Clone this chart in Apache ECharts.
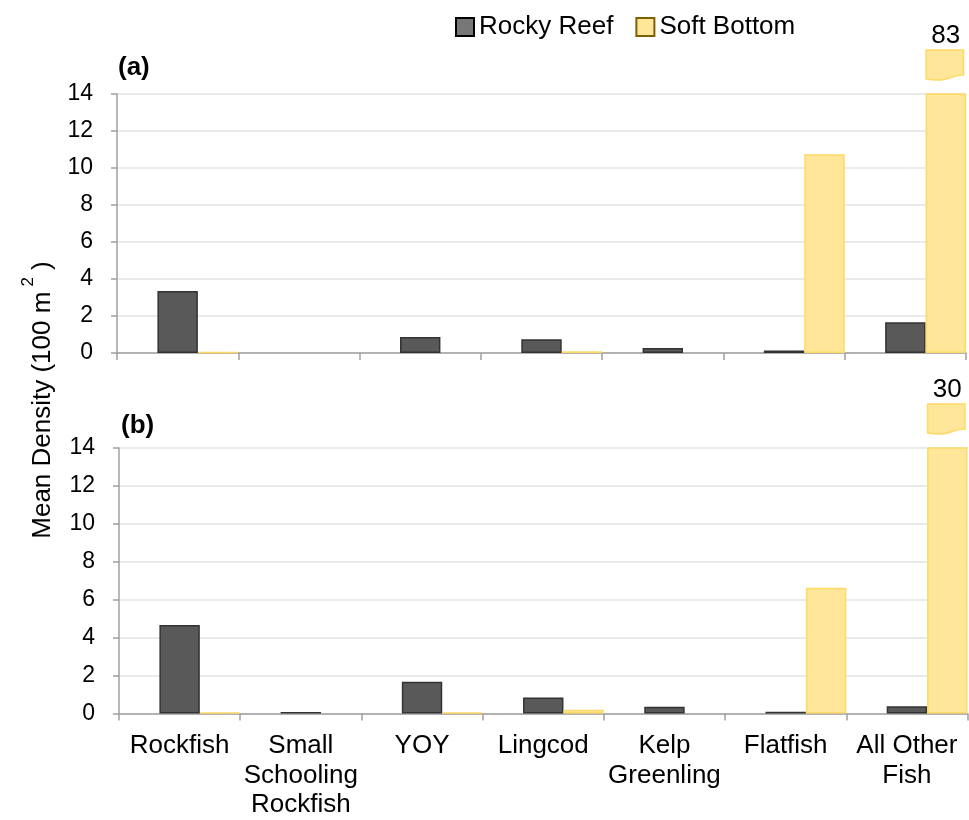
<!DOCTYPE html>
<html>
<head>
<meta charset="utf-8">
<script src="https://cdn.jsdelivr.net/npm/echarts@6/dist/echarts.min.js"></script>
<style>
html,body{margin:0;padding:0;background:#fff;}
#chart{width:969px;height:820px;}
</style>
</head>
<body>
<div id="chart"></div>
<script>
// ---- data ----
const categories = ['Rockfish', 'Small\nSchooling\nRockfish', 'YOY', 'Lingcod', 'Kelp\nGreenling', 'Flatfish', 'All Other\nFish'];
const seriesNames = ['Rocky Reef', 'Soft Bottom'];
const rockyA = [3.35, 0, 0.86, 0.74, 0.27, 0.13, 1.66];
const softA  = [0.05, 0, 0, 0.1, 0, 10.74, 83];
const rockyB = [4.67, 0.08, 1.68, 0.84, 0.35, 0.09, 0.38];
const softB  = [0.06, 0, 0.05, 0.2, 0, 6.63, 30];
const yTicks = [0, 2, 4, 6, 8, 10, 12, 14];
const panelLabels = ['(a)', '(b)'];
const yTitle = 'Mean Density (100 m';

const YMAX = yTicks[yTicks.length - 1];
const FONT = 'Liberation Sans, Arial, sans-serif';
const ROCKY = {color: '#595959', borderColor: '#333333', borderWidth: 1.5};
const SOFT = {color: '#FFE699', borderColor: '#FFD966', borderWidth: 1.5};
const noZero = arr => arr.map(v => (v === 0 ? '-' : v));

function breakRenderer(params, api) {
  const v = api.value(1);
  if (!(v > YMAX)) return null;
  const p = api.coord([api.value(0), YMAX]);
  const bw = api.size([1, 0])[0];
  const w = bw / 3;
  const cx = p[0] + w;
  const L = cx - w / 2 + 0.5, R = cx + w / 2 - 2.5;
  const T = p[1] - 44;
  const d = 'M' + L + ',' + T + ' L' + R + ',' + T + ' L' + R + ',' + (T + 25) +
    ' C' + (R - w * 0.35) + ',' + (T + 25) + ' ' + (L + w * 0.55) + ',' + (T + 33) + ' ' + L + ',' + (T + 29) + ' Z';
  return {
    type: 'group',
    children: [
      {type: 'path', shape: {pathData: d}, style: {fill: SOFT.color, stroke: SOFT.borderColor, lineWidth: 1.5}},
      {type: 'text', style: {text: String(v), x: cx, y: p[1] - 58, align: 'center', verticalAlign: 'middle',
        fontSize: 26, fontFamily: FONT, fill: '#000'}}
    ]
  };
}

function xAxis(gridIndex, showLabels) {
  return {
    type: 'category', gridIndex: gridIndex, data: categories,
    axisLine: {lineStyle: {color: '#a0a0a0', width: 1.5}},
    axisTick: {show: true, length: 7, lineStyle: {color: '#a0a0a0', width: 1.5}},
    axisLabel: {show: showLabels, color: '#000', fontSize: 26, fontFamily: FONT, lineHeight: 29.5, margin: 18, interval: 0},
    splitLine: {show: false}
  };
}
function yAxis(gridIndex) {
  return {
    type: 'value', gridIndex: gridIndex, min: 0, max: YMAX, interval: 2,
    axisLine: {show: true, lineStyle: {color: '#a0a0a0', width: 1.5}},
    axisTick: {show: true, length: 6, lineStyle: {color: '#a0a0a0', width: 1.5}},
    axisLabel: {color: '#000', fontSize: 23, fontFamily: FONT, margin: 24},
    splitLine: {lineStyle: {color: '#e3e3e3', width: 1.5}}
  };
}
function panelSeries(idx, rocky, soft) {
  return [
    {type: 'bar', xAxisIndex: idx, yAxisIndex: idx, data: rocky.map(() => '-'), barGap: '0%', barCategoryGap: '0%', silent: true},
    {name: seriesNames[0], type: 'bar', xAxisIndex: idx, yAxisIndex: idx, data: noZero(rocky), itemStyle: ROCKY, barGap: '0%', barCategoryGap: '0%'},
    {name: seriesNames[1], type: 'bar', xAxisIndex: idx, yAxisIndex: idx, data: noZero(soft), itemStyle: SOFT, barGap: '0%', barCategoryGap: '0%', clip: true},
    {type: 'custom', xAxisIndex: idx, yAxisIndex: idx, data: soft.map((v, i) => [i, v]), renderItem: breakRenderer, clip: false, silent: true, z: 5}
  ];
}

const chart = echarts.init(document.getElementById('chart'), null, {renderer: 'canvas'});
chart.setOption({
  animation: false,
  backgroundColor: '#fff',
  textStyle: {fontFamily: FONT},
  legend: {
    left: 450, top: 9, icon: 'rect', itemWidth: 18, itemHeight: 18, itemGap: 22,
    textStyle: {fontSize: 26, color: '#000', fontFamily: FONT, padding: [2, 0, 0, 0]},
    data: [
      {name: seriesNames[0], itemStyle: {color: '#777777', borderColor: '#000', borderWidth: 2}},
      {name: seriesNames[1], itemStyle: {color: '#FFE699', borderColor: '#7F6000', borderWidth: 2}}
    ]
  },
  grid: [
    {left: 117, right: 3, top: 94, height: 259},
    {left: 119, right: 1.5, top: 448, height: 266}
  ],
  xAxis: [xAxis(0, false), xAxis(1, true)],
  yAxis: [yAxis(0), yAxis(1)],
  series: panelSeries(0, rockyA, softA).concat(panelSeries(1, rockyB, softB)),
  graphic: [
    {type: 'text', left: 118, top: 55, style: {text: panelLabels[0], fontSize: 26, fontWeight: 'bold', fontFamily: FONT, fill: '#000'}},
    {type: 'text', left: 121, top: 413, style: {text: panelLabels[1], fontSize: 26, fontWeight: 'bold', fontFamily: FONT, fill: '#000'}},
    {type: 'text', x: 38, y: 400, rotation: Math.PI / 2,
      style: {text: '{a|' + yTitle + '}{s|2}{a| )}', align: 'center', verticalAlign: 'middle', fill: '#000',
        rich: {a: {fontSize: 26, fontFamily: FONT, lineHeight: 36, verticalAlign: 'bottom'},
               s: {fontSize: 17, fontFamily: FONT, lineHeight: 36, verticalAlign: 'top', padding: [0, 0, 0, 5]}}}}
  ]
});
</script>
</body>
</html>
